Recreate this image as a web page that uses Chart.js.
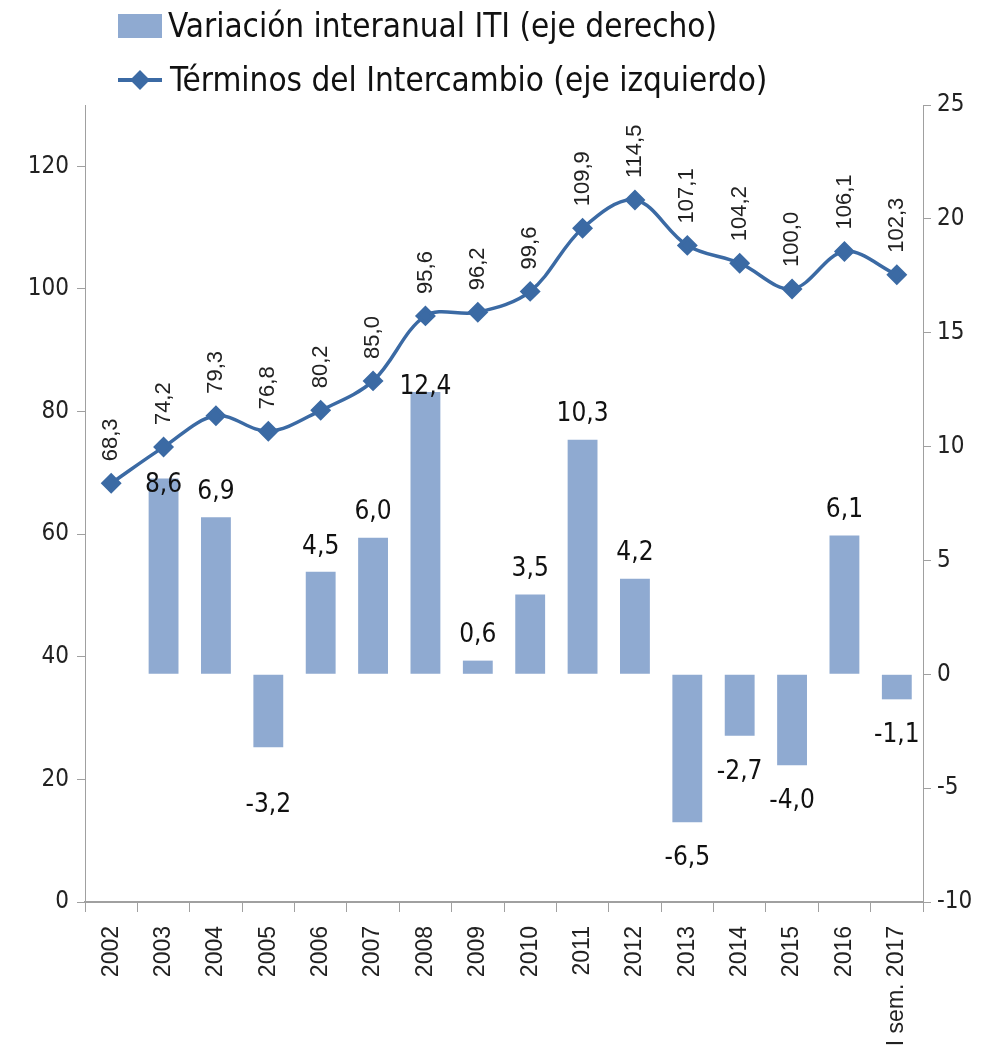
<!DOCTYPE html>
<html>
<head>
<meta charset="utf-8">
<script src="https://cdn.jsdelivr.net/npm/chart.js@4/dist/chart.umd.min.js"></script>
<style>
  body { margin: 0; background: #fff; }
  #wrap { position: relative; width: 990px; height: 1053px; }
  .leg { position: absolute; left: 118px; font-family: 'Liberation Sans Narrow', 'DejaVu Sans Condensed', 'Liberation Sans', sans-serif; font-size: 33px; color: #111; white-space: nowrap; display: flex; align-items: center; }
  .box { width: 44px; height: 24px; background: #8faad1; margin-right: 6px; }
  .lineicon { position: relative; width: 44px; height: 24px; margin-right: 8px; }
  .lineicon .ln { position: absolute; left: 0; right: 0; top: 10px; height: 4px; background: #3b6aa4; }
  .lineicon .dm { position: absolute; left: 15px; top: 5px; width: 14px; height: 14px; background: #3b6aa4; transform: rotate(45deg); }
</style>
</head>
<body>
<div id="wrap">
  <canvas id="c" width="990" height="1053"></canvas>
  <div class="leg" style="top:6px;"><div class="box"></div>Variación interanual ITI (eje derecho)</div>
  <div class="leg" style="top:60px;"><div class="lineicon"><div class="ln"></div><div class="dm"></div></div>Términos del Intercambio (eje izquierdo)</div>
</div>
<script>
var years = ["2002", "2003", "2004", "2005", "2006", "2007", "2008", "2009", "2010", "2011", "2012", "2013", "2014", "2015", "2016", "I sem. 2017"];
var terminos = [68.3, 74.2, 79.3, 76.8, 80.2, 85.0, 95.6, 96.2, 99.6, 109.9, 114.5, 107.1, 104.2, 100.0, 106.1, 102.3];
var variacion = [null, 8.6, 6.9, -3.2, 4.5, 6.0, 12.4, 0.6, 3.5, 10.3, 4.2, -6.5, -2.7, -4.0, 6.1, -1.1];
var leftTicks = [0, 20, 40, 60, 80, 100, 120];
var rightTicks = [-10, -5, 0, 5, 10, 15, 20, 25];

var narrow = "'Liberation Sans Narrow', 'DejaVu Sans Condensed', 'Liberation Sans', sans-serif";
var tickFont = { family: narrow, size: 24 };
var axisColor = "#a0a0a0";

// a few bar labels were dragged by hand in the original
var labelNudge = { 1: 32, 3: 22, 6: 20 };

function fmt(v) { return v.toFixed(1).replace(".", ","); }

var valueLabels = {
  id: "valueLabels",
  afterDatasetsDraw: function (chart) {
    var ctx = chart.ctx;
    var barMeta = chart.getDatasetMeta(1);
    ctx.save();
    ctx.fillStyle = "#111";
    ctx.font = "26px " + narrow;
    ctx.textAlign = "center";
    barMeta.data.forEach(function (el, i) {
      var v = variacion[i];
      if (v === null) return;
      var nudge = labelNudge[i] || 0;
      if (v >= 0) {
        ctx.textBaseline = "bottom";
        ctx.fillText(fmt(v), el.x, el.y - 12 + nudge);
      } else {
        ctx.textBaseline = "top";
        ctx.fillText(fmt(v), el.x, el.y + 23 + nudge);
      }
    });
    ctx.restore();
    // line labels, rotated
    var lineMeta = chart.getDatasetMeta(0);
    ctx.save();
    ctx.fillStyle = "#222";
    ctx.font = "22px 'Liberation Sans', Arial, sans-serif";
    lineMeta.data.forEach(function (el, i) {
      ctx.save();
      ctx.translate(el.x, el.y - 22);
      ctx.rotate(-Math.PI / 2);
      ctx.textAlign = "left";
      ctx.textBaseline = "middle";
      ctx.fillText(fmt(terminos[i]), 0, 0);
      ctx.restore();
    });
    ctx.restore();
  }
};

var chart = new Chart(document.getElementById("c").getContext("2d"), {
  type: "bar",
  data: {
    labels: years,
    datasets: [
      {
        type: "line",
        label: "Términos del Intercambio (eje izquierdo)",
        data: terminos,
        yAxisID: "yL",
        borderColor: "#3b6aa4",
        backgroundColor: "#3b6aa4",
        borderWidth: 3.5,
        tension: 0.35,
        pointStyle: "rectRot",
        pointRadius: 8,
        pointBackgroundColor: "#3b6aa4",
        pointBorderColor: "#3b6aa4",
        order: 0
      },
      {
        type: "bar",
        label: "Variación interanual ITI (eje derecho)",
        data: variacion,
        yAxisID: "yR",
        backgroundColor: "#8faad1",
        barPercentage: 0.57,
        categoryPercentage: 1,
        order: 1
      }
    ]
  },
  options: {
    responsive: false,
    animation: false,
    layout: { padding: { top: 105, left: 0, right: 0, bottom: 0 } },
    plugins: { legend: { display: false }, tooltip: { enabled: false } },
    scales: {
      x: {
        offset: true,
        grid: { offset: true, drawOnChartArea: false, drawTicks: true, tickLength: 10, color: axisColor },
        border: { color: axisColor, width: 2 },
        ticks: { minRotation: 90, maxRotation: 90, font: { family: "'Liberation Sans', Arial, sans-serif", size: 23 }, color: "#222", padding: 14 },
        afterFit: function (s) { s.height = 151; }
      },
      yL: {
        position: "left",
        min: 0,
        max: 130,
        afterBuildTicks: function (s) { s.ticks = leftTicks.map(function (v) { return { value: v }; }); },
        grid: { drawOnChartArea: false, tickLength: 8, color: axisColor },
        border: { color: axisColor, width: 1 },
        ticks: { font: tickFont, color: "#222", padding: 8 },
        afterFit: function (s) { s.width = 85; }
      },
      yR: {
        position: "right",
        min: -10,
        max: 25,
        afterBuildTicks: function (s) { s.ticks = rightTicks.map(function (v) { return { value: v }; }); },
        grid: { drawOnChartArea: false, tickLength: 8, color: axisColor },
        border: { color: axisColor, width: 1 },
        ticks: { font: tickFont, color: "#222", padding: 6 },
        afterFit: function (s) { s.width = 67; }
      }
    }
  },
  plugins: [valueLabels]
});
</script>
</body>
</html>
